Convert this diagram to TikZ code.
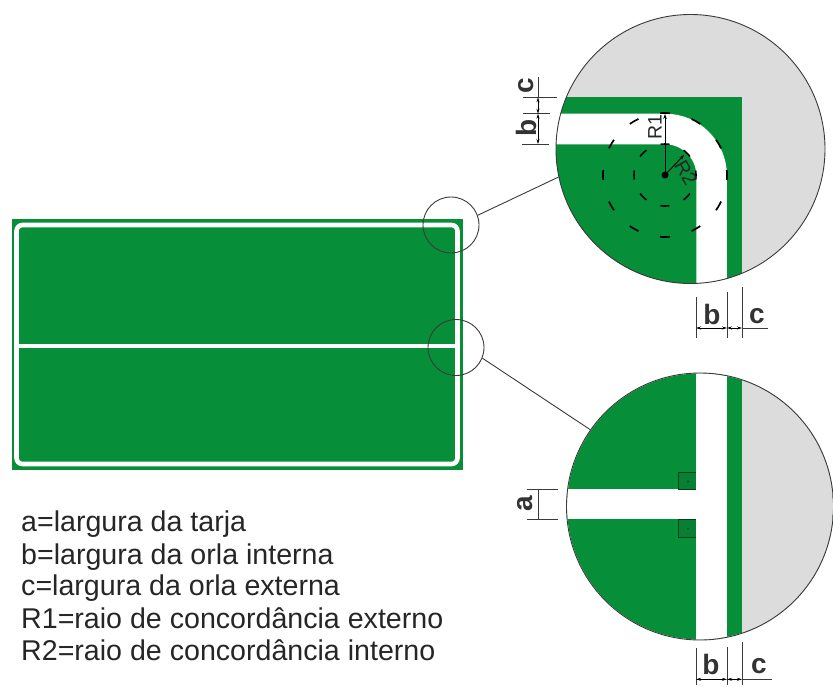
\documentclass[tikz,border=0pt]{standalone}
\usepackage{fontspec}
\setmainfont{Liberation Sans}
\usetikzlibrary{arrows.meta}
\definecolor{signgreen}{HTML}{078E38}
\definecolor{signgray}{HTML}{DCDCDC}
\definecolor{linegray}{HTML}{3A3A3A}
\tikzset{
  lens/.style={circle,draw=linegray,line width=0.9pt,inner sep=0pt,minimum size=#1},
  callout/.style={draw=linegray,line width=0.9pt},
  dimline/.style={draw=linegray,line width=0.7pt},
  dimarrow/.style={draw=black,line width=0.7pt,{Stealth[length=5pt,width=3pt]}-{Stealth[length=5pt,width=3pt]}},
  radline/.style={draw=black,line width=0.9pt,-{Stealth[length=5pt,width=3.5pt]}},
  dimlabel/.style={font=\fontsize{28}{28}\selectfont\bfseries,text=black!80,inner sep=0pt},
  radlabel/.style={font=\fontsize{19.5}{19.5}\selectfont,text=black!85,inner sep=0pt},
  legend/.style={font=\fontsize{28.6}{28.6}\selectfont,text=black!85,anchor=base west,inner sep=0pt},
  anglemark/.style={draw=black!55!signgreen,line width=0.7pt,fill=black!10!signgreen},
}
\begin{document}
\begin{tikzpicture}[x=1pt,y=-1pt]
\useasboundingbox (0,0) rectangle (833,686);
% main sign
\fill[signgreen] (12,219) rectangle (463,470);
\draw[white,line width=4.6pt,rounded corners=6pt] (16.5,225) rectangle (457.5,464);
\draw[white,line width=4.6pt] (16.5,345.8) -- (457.5,345.8);
% upper detail
\fill[signgray] (690.5,149) circle[radius=134.5];
\begin{scope}
  \clip (690.5,149) circle[radius=134.5];
  \fill[signgreen] (540,97.3) rectangle (742,300);
  \draw[white,line width=30.6pt,rounded corners=46.5pt] (540,129) -- (711.6,129) -- (711.6,300);
\end{scope}
\draw[black,line width=1.7pt,dash pattern=on 10pt off 22.47pt,dash phase=5pt] (665,175) circle[radius=62];
\draw[black,line width=1.6pt,dash pattern=on 9pt off 15.35pt,dash phase=4.5pt] (665,175) circle[radius=31];
\fill[black] (665,175) circle[radius=3.5];
\node[lens=269pt] (big1) at (690.5,149) {};
% lower detail
\fill[signgreen] (700,506.5) circle[radius=133];
\begin{scope}
  \clip (700,506.5) circle[radius=133];
  \fill[signgray] (742.3,360) rectangle (840,650);
  \fill[white] (696,360) rectangle (727,650);
  \fill[white] (560,489.3) rectangle (700,519.3);
  \draw[anglemark] (696,472.7) -- (678.3,472.7) -- (678.3,489.3) -- (696,489.3);
  \draw[anglemark] (696,519.3) -- (678.3,519.3) -- (678.3,537) -- (696,537);
  \fill[black!80] (688,481.5) circle[radius=1];
  \fill[black!80] (688,528.5) circle[radius=1];
\end{scope}
\node[lens=267pt] (big2) at (700,506.5) {};
% lenses on the sign
\node[lens=56pt] (small1) at (451,225) {};
\node[lens=56pt] (small2) at (456,347.5) {};
\draw[callout] (small1.20) -- (big1.192.7);
\draw[callout] (small2.-22) -- (big2.145.4);
% radii
\coordinate (arcc) at (665,175);
\coordinate (r1end) at (665,114);
\coordinate (r2end) at (684,155);
\draw[radline] (arcc) -- (r1end);
\draw[radline] (arcc) -- (r2end);
\node[radlabel,rotate=90] (r1lab) at (655,127) {R1};
\node[radlabel,rotate=-60] (r2lab) at (686,173) {R2};
% dims: upper detail, left
\coordinate (lc0) at (523,97.3);  \coordinate (lc1) at (557,97.3);
\coordinate (lm0) at (523,113.7); \coordinate (lm1) at (550,113.7);
\coordinate (lb0) at (522,144);   \coordinate (lb1) at (549,144);
\coordinate (lt) at (538,77);     \coordinate (ltb) at (538,97.3);
\coordinate (ltm) at (538,113.7); \coordinate (ltc) at (538,144);
\draw[dimline] (lc0) -- (lc1);
\draw[dimline] (lm0) -- (lm1);
\draw[dimline] (lb0) -- (lb1);
\draw[dimline] (lt) -- (ltb);
\draw[dimarrow] (ltb) -- (ltm);
\draw[dimarrow] (ltm) -- (ltc);
\node[dimlabel,rotate=90] (lc) at (526,86) {c};
\node[dimlabel,rotate=90] (lb) at (526,128) {b};
% dims: upper detail, bottom
\coordinate (ua0) at (696,297); \coordinate (ua1) at (696,338);
\coordinate (ub0) at (727,292); \coordinate (ub1) at (727,338);
\coordinate (uc0) at (742,287); \coordinate (uc1) at (742,338);
\coordinate (ud0) at (696,328); \coordinate (ud1) at (727,328);
\coordinate (ud2) at (742,328); \coordinate (ud3) at (768,328);
\draw[dimline] (ua0) -- (ua1);
\draw[dimline] (ub0) -- (ub1);
\draw[dimline] (uc0) -- (uc1);
\draw[dimarrow] (ud0) -- (ud1);
\draw[dimarrow] (ud1) -- (ud2);
\draw[dimline] (ud2) -- (ud3);
\node[dimlabel] (ubl) at (712,314) {b};
\node[dimlabel] (ucl) at (757,316) {c};
% dims: lower detail, bottom
\coordinate (va0) at (696,648); \coordinate (va1) at (696,685);
\coordinate (vb0) at (727,647); \coordinate (vb1) at (727,685);
\coordinate (vc0) at (742,642); \coordinate (vc1) at (742,685);
\coordinate (vd0) at (696,679.3); \coordinate (vd1) at (727,679.3);
\coordinate (vd2) at (742,679.3); \coordinate (vd3) at (772,679.3);
\draw[dimline] (va0) -- (va1);
\draw[dimline] (vb0) -- (vb1);
\draw[dimline] (vc0) -- (vc1);
\draw[dimarrow] (vd0) -- (vd1);
\draw[dimarrow] (vd1) -- (vd2);
\draw[dimline] (vd2) -- (vd3);
\node[dimlabel] (vbl) at (711,664) {b};
\node[dimlabel] (vcl) at (759,666) {c};
% dim a
\coordinate (aa0) at (527,489.3); \coordinate (aa1) at (558,489.3);
\coordinate (ab0) at (527,519.3); \coordinate (ab1) at (558,519.3);
\coordinate (ac0) at (538,489.3); \coordinate (ac1) at (538,519.3);
\draw[dimline] (aa0) -- (aa1);
\draw[dimline] (ab0) -- (ab1);
\draw[dimline] (ac0) -- (ac1);
\node[dimlabel,rotate=90] (alab) at (525,504) {a};
% legend
\node[legend] (t1) at (21,531.7) {a=largura da tarja};
\node[legend] (t2) at (21,564) {b=largura da orla interna};
\node[legend] (t3) at (21,595.7) {c=largura da orla externa};
\node[legend] (t4) at (21,628) {R1=raio de concordância externo};
\node[legend] (t5) at (21,660.7) {R2=raio de concordância interno};
\end{tikzpicture}
\end{document}
